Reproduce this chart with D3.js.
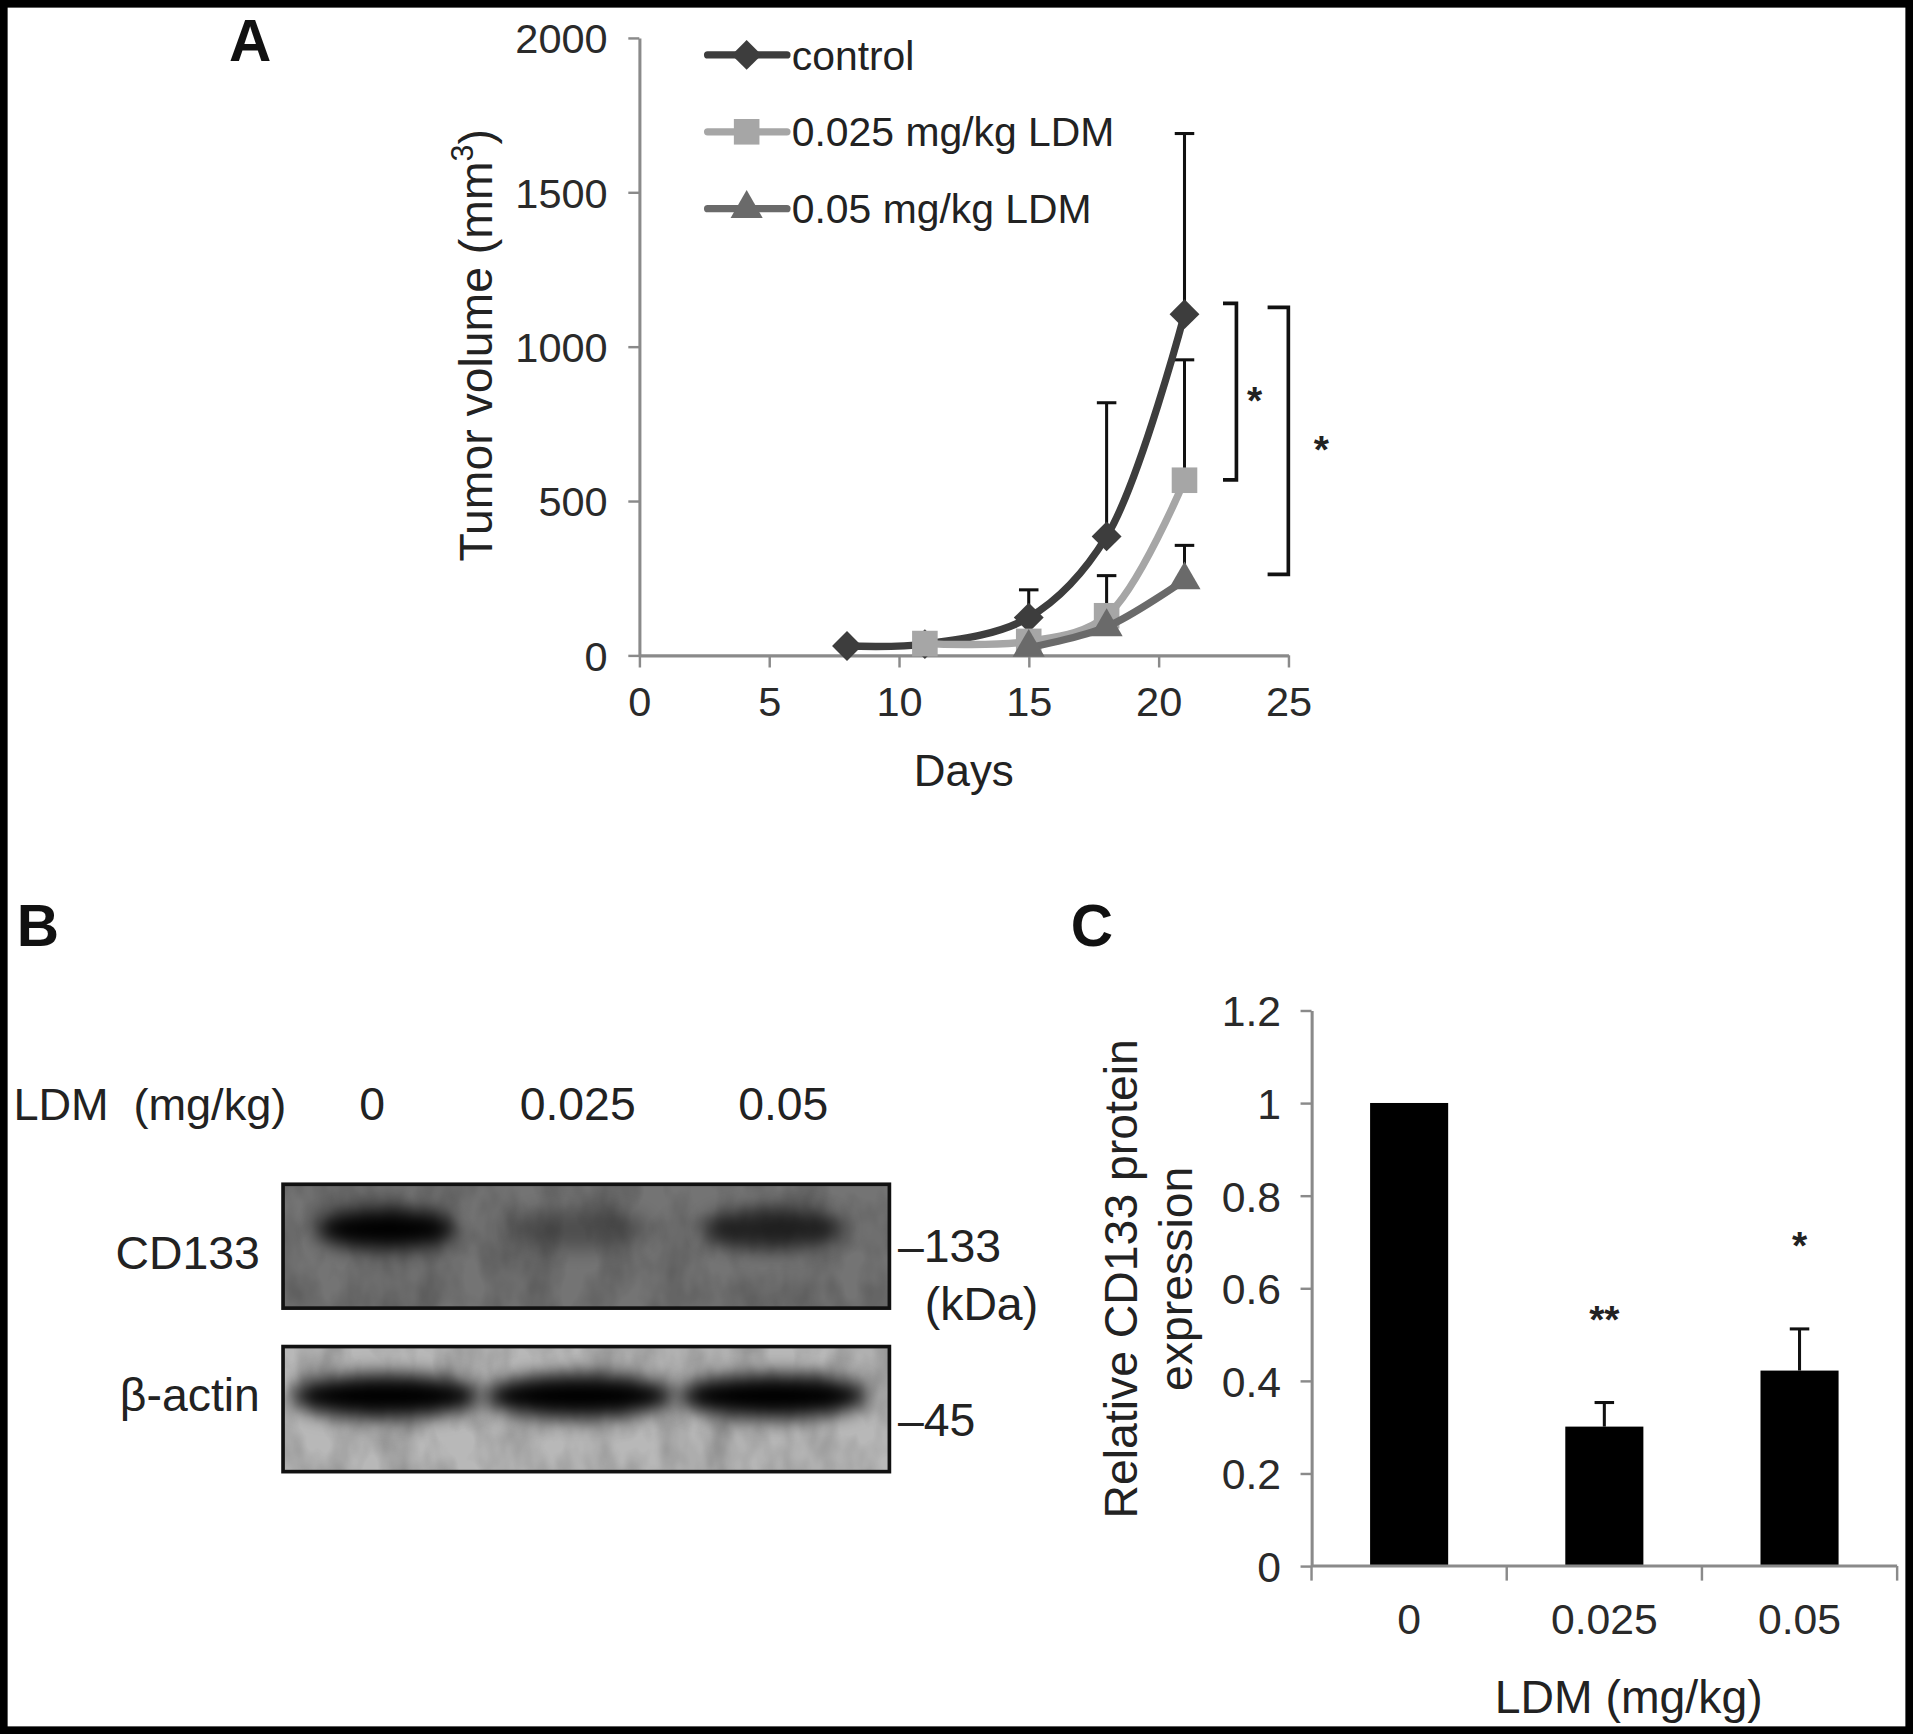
<!DOCTYPE html>
<html>
<head>
<meta charset="utf-8">
<script src="https://cdn.jsdelivr.net/npm/d3@7"></script>
<style>
  body { margin: 0; background: #fff; }
  svg { display: block; font-family: "Liberation Sans", Arial, sans-serif; }
</style>
</head>
<body>
<script>
// ---- panel A: tumour growth ----
const seriesNames = ["control", "0.025 mg/kg LDM", "0.05 mg/kg LDM"];
const controlDays = [8, 11, 15, 18, 21];
const controlMean = [30, 36, 122, 385, 1105];
const controlSD = [0, 0, 90, 433, 585];
const lowDays = [11, 15, 18, 21];
const lowMean = [38, 45, 128, 567];
const lowSD = [0, 0, 130, 390];
const highDays = [15, 18, 21];
const highMean = [25, 92, 244];
const highSD = [0, 0, 112];
const dayTicks = [0, 5, 10, 15, 20, 25];
const volumeTicks = [0, 500, 1000, 1500, 2000];
// brackets: [upper value, lower value, day of the vertical stroke, label]
const brackets = [[1140, 568, 23.0, "*"], [1127, 262, 25.0, "*"]];

// ---- panel B: western blot ----
const laneLabels = ["0", "0.025", "0.05"];
const cd133Band = [1.0, 0.32, 0.72];
const actinBand = [1.0, 1.0, 1.0];

// ---- panel C: CD133 quantification ----
const doseLabels = ["0", "0.025", "0.05"];
const cd133Rel = [1.0, 0.301, 0.422];
const cd133SD = [0, 0.052, 0.09];
const cd133Sig = ["", "**", "*"];
const relTicks = [0, 0.2, 0.4, 0.6, 0.8, 1, 1.2];

const svg = d3.select("body").append("svg")
    .attr("width", 1913)
    .attr("height", 1734)
    .attr("viewBox", "0 0 1568 1421")
    .attr("preserveAspectRatio", "none");

const defs = svg.append("defs");

function styleAxis(g, size) {
    g.select(".domain").attr("stroke", "#8a8a8a").attr("stroke-width", 2.5);
    g.selectAll(".tick line").attr("stroke", "#8a8a8a").attr("stroke-width", 2);
    g.selectAll(".tick text")
        .attr("fill", "#2a2a2a")
        .attr("font-size", size)
        .attr("font-family", "Liberation Sans, Arial, sans-serif");
}

// ================= A =================
const x = d3.scaleLinear().domain([0, 25]).range([524, 1056]);
const y = d3.scaleLinear().domain([0, 2000]).range([537, 31]);

svg.append("g")
    .attr("transform", `translate(0,${y(0)})`)
    .call(d3.axisBottom(x).tickValues(dayTicks).tickSize(10).tickSizeOuter(0).tickPadding(16))
    .call(g => styleAxis(g, 34));

svg.append("g")
    .attr("transform", `translate(${x(0)},0)`)
    .call(d3.axisLeft(y).tickValues(volumeTicks).tickFormat(d3.format("d")).tickSize(9).tickSizeOuter(0).tickPadding(17))
    .call(g => styleAxis(g, 34))
    .call(g => g.selectAll(".tick text").attr("dy", "0.36em"));

const series = [
    { name: seriesNames[0], days: controlDays, mean: controlMean, sd: controlSD, color: "#3d3d3d", shape: "diamond" },
    { name: seriesNames[1], days: lowDays, mean: lowMean, sd: lowSD, color: "#a6a6a6", shape: "square" },
    { name: seriesNames[2], days: highDays, mean: highMean, sd: highSD, color: "#6a6a6a", shape: "triangle" }
];

function marker(shape) {
    if (shape === "diamond") return d3.symbol(d3.symbolSquare, 300)();
    if (shape === "square") return d3.symbol(d3.symbolSquare, 440)();
    return d3.symbol(d3.symbolTriangle, 300)();
}

// error bars first (behind lines)
series.forEach(s => {
    const g = svg.append("g");
    s.days.forEach((d, i) => {
        if (!s.sd[i]) return;
        const top = y(s.mean[i] + s.sd[i]);
        g.append("line")
            .attr("x1", x(d)).attr("x2", x(d))
            .attr("y1", y(s.mean[i])).attr("y2", top)
            .attr("stroke", "#111").attr("stroke-width", 2.5);
        g.append("line")
            .attr("x1", x(d) - 8).attr("x2", x(d) + 8)
            .attr("y1", top).attr("y2", top)
            .attr("stroke", "#111").attr("stroke-width", 2.5);
    });
});

const line = d3.line().curve(d3.curveCatmullRom.alpha(0.5));

series.forEach(s => {
    const pts = s.days.map((d, i) => [x(d), y(s.mean[i])]);
    svg.append("path")
        .attr("d", line(pts))
        .attr("fill", "none")
        .attr("stroke", s.color)
        .attr("stroke-width", 6)
        .attr("stroke-linecap", "round");
    svg.append("g").selectAll("path")
        .data(pts)
        .join("path")
        .attr("d", marker(s.shape))
        .attr("transform", p => `translate(${p[0]},${p[1]})` + (s.shape === "diamond" ? " rotate(45)" : ""))
        .attr("fill", s.color);
});

// significance brackets
brackets.forEach(([hi, lo, day, label], i) => {
    const bx = x(day);
    const arm = i === 0 ? 11 : 17;
    svg.append("path")
        .attr("d", `M${bx - arm},${y(hi)}H${bx}V${y(lo)}H${bx - arm}`)
        .attr("fill", "none")
        .attr("stroke", "#111")
        .attr("stroke-width", 3);
    svg.append("text")
        .attr("x", bx + (i === 0 ? 15 : 27))
        .attr("y", (y(hi) + y(lo)) / 2 + 18)
        .attr("text-anchor", "middle")
        .attr("font-size", 32)
        .attr("font-weight", "bold")
        .attr("fill", "#222")
        .text(label);
});

// legend
const legend = svg.append("g");
series.forEach((s, i) => {
    const ly = 45 + i * 63;
    legend.append("line")
        .attr("x1", 580).attr("x2", 645)
        .attr("y1", ly).attr("y2", ly)
        .attr("stroke", s.color).attr("stroke-width", 6).attr("stroke-linecap", "round");
    legend.append("path")
        .attr("d", marker(s.shape))
        .attr("transform", `translate(612,${ly})` + (s.shape === "diamond" ? " rotate(45)" : ""))
        .attr("fill", s.color);
    legend.append("text")
        .attr("x", 649).attr("y", ly + 12)
        .attr("font-size", 33.5)
        .attr("fill", "#222")
        .text(s.name);
});

svg.append("text")
    .attr("x", 790).attr("y", 644)
    .attr("text-anchor", "middle")
    .attr("font-size", 36)
    .attr("fill", "#222")
    .text("Days");

svg.append("text")
    .attr("transform", "translate(403,283) rotate(-90)")
    .attr("text-anchor", "middle")
    .attr("font-size", 38)
    .attr("fill", "#222")
    .call(t => {
        t.append("tspan").text("Tumor volume (mm");
        t.append("tspan").attr("font-size", 25).attr("dy", -15).text("3");
        t.append("tspan").attr("dy", 15).text(")");
    });

// ================= B =================
const lane = d3.scalePoint().domain(laneLabels).range([305, 642]);
const bandLane = d3.scalePoint().domain(laneLabels).range([316, 634]);

svg.append("text")
    .attr("x", 11).attr("y", 918)
    .attr("font-size", 37)
    .attr("fill", "#222")
    .attr("word-spacing", 10)
    .text("LDM (mg/kg)");

svg.append("g").selectAll("text")
    .data(laneLabels)
    .join("text")
    .attr("x", d => lane(d))
    .attr("y", 918)
    .attr("text-anchor", "middle")
    .attr("font-size", 38)
    .attr("fill", "#222")
    .text(d => d);

const blur = defs.append("filter").attr("id", "blur")
    .attr("x", "-50%").attr("y", "-80%").attr("width", "200%").attr("height", "260%");
blur.append("feGaussianBlur").attr("stdDeviation", 8);

const grain = defs.append("filter").attr("id", "grain")
    .attr("x", 0).attr("y", 0).attr("width", "100%").attr("height", "100%");
grain.append("feTurbulence")
    .attr("type", "fractalNoise").attr("baseFrequency", "0.035 0.02")
    .attr("numOctaves", 3).attr("seed", 7).attr("result", "t");
grain.append("feColorMatrix")
    .attr("in", "t").attr("type", "matrix")
    .attr("values", "0 0 0 0 0  0 0 0 0 0  0 0 0 0 0  0.9 0 0 0 -0.3");

const blots = [
    { label: "CD133", top: 970.5, bottom: 1072, bg: "#747474", bands: cd133Band, bandY: 1007, rx: 58, ry: 17, mark: "\u2013133", markY: 1034 },
    { label: "\u03b2-actin", top: 1103.5, bottom: 1206, bg: "#b8b8b8", bands: actinBand, bandY: 1144, rx: 78, ry: 18, mark: "\u201345", markY: 1177 }
];

blots.forEach((b, bi) => {
    const clipId = "clip" + bi;
    defs.append("clipPath").attr("id", clipId)
        .append("rect")
        .attr("x", 232).attr("y", b.top)
        .attr("width", 497).attr("height", b.bottom - b.top);
    const g = svg.append("g").attr("clip-path", `url(#${clipId})`);
    g.append("rect")
        .attr("x", 232).attr("y", b.top)
        .attr("width", 497).attr("height", b.bottom - b.top)
        .attr("fill", b.bg);
    g.append("rect")
        .attr("x", 232).attr("y", b.top)
        .attr("width", 497).attr("height", b.bottom - b.top)
        .attr("fill", "#000")
        .attr("filter", "url(#grain)")
        .attr("opacity", 0.45);
    g.selectAll("ellipse")
        .data(laneLabels)
        .join("ellipse")
        .attr("cx", d => bandLane(d))
        .attr("cy", b.bandY)
        .attr("rx", b.rx)
        .attr("ry", b.ry)
        .attr("fill", "#030303")
        .attr("opacity", (d, i) => b.bands[i])
        .attr("filter", "url(#blur)");
    svg.append("rect")
        .attr("x", 232).attr("y", b.top)
        .attr("width", 497).attr("height", b.bottom - b.top)
        .attr("fill", "none")
        .attr("stroke", "#111")
        .attr("stroke-width", 3);
    svg.append("text")
        .attr("x", 213).attr("y", bi === 0 ? 1040 : 1156)
        .attr("text-anchor", "end")
        .attr("font-size", 38)
        .attr("fill", "#222")
        .text(b.label);
    svg.append("text")
        .attr("x", 736).attr("y", b.markY)
        .attr("font-size", 38)
        .attr("fill", "#222")
        .text(b.mark);
});

svg.append("text")
    .attr("x", 758).attr("y", 1082)
    .attr("font-size", 38)
    .attr("fill", "#222")
    .text("(kDa)");

// ================= C =================
const xc = d3.scaleBand().domain(doseLabels).range([1075, 1555]).paddingInner(0.6).paddingOuter(0.3);
const yc = d3.scaleLinear().domain([0, 1.2]).range([1283.3, 828]);

svg.append("g")
    .attr("transform", `translate(1075,0)`)
    .call(d3.axisLeft(yc).tickValues(relTicks).tickFormat(d => String(+d.toFixed(1))).tickSize(9).tickSizeOuter(0).tickPadding(16))
    .call(g => styleAxis(g, 35))
    .call(g => g.selectAll(".tick text").attr("dy", "0.36em"));

svg.append("g").selectAll("rect")
    .data(doseLabels)
    .join("rect")
    .attr("x", d => xc(d))
    .attr("y", (d, i) => yc(cd133Rel[i]))
    .attr("width", xc.bandwidth())
    .attr("height", (d, i) => yc(0) - yc(cd133Rel[i]))
    .attr("fill", "#000");

const errC = svg.append("g");
doseLabels.forEach((d, i) => {
    if (!cd133SD[i]) return;
    const cx = xc(d) + xc.bandwidth() / 2;
    const top = yc(cd133Rel[i] + cd133SD[i]);
    errC.append("line")
        .attr("x1", cx).attr("x2", cx)
        .attr("y1", yc(cd133Rel[i])).attr("y2", top)
        .attr("stroke", "#111").attr("stroke-width", 2.5);
    errC.append("line")
        .attr("x1", cx - 8).attr("x2", cx + 8)
        .attr("y1", top).attr("y2", top)
        .attr("stroke", "#111").attr("stroke-width", 2.5);
    svg.append("text")
        .attr("x", cx)
        .attr("y", top - 75 + 18)
        .attr("text-anchor", "middle")
        .attr("font-size", 32)
        .attr("font-weight", "bold")
        .attr("fill", "#222")
        .text(cd133Sig[i]);
});

// x axis of C: line, ticks at category boundaries, labels at centres
const xAxisC = svg.append("g");
xAxisC.append("line")
    .attr("x1", xc.range()[0]).attr("x2", xc.range()[1])
    .attr("y1", yc(0)).attr("y2", yc(0))
    .attr("stroke", "#8a8a8a").attr("stroke-width", 2.5);
xAxisC.selectAll("line.b")
    .data(d3.range(doseLabels.length + 1))
    .join("line")
    .attr("class", "b")
    .attr("x1", i => xc.range()[0] + i * xc.step())
    .attr("x2", i => xc.range()[0] + i * xc.step())
    .attr("y1", yc(0)).attr("y2", yc(0) + 12)
    .attr("stroke", "#8a8a8a").attr("stroke-width", 2);
xAxisC.selectAll("text")
    .data(doseLabels)
    .join("text")
    .attr("x", d => xc(d) + xc.bandwidth() / 2)
    .attr("y", 1339)
    .attr("text-anchor", "middle")
    .attr("font-size", 35)
    .attr("fill", "#2a2a2a")
    .text(d => d);

svg.append("text")
    .attr("x", 1335).attr("y", 1404)
    .attr("text-anchor", "middle")
    .attr("font-size", 38)
    .attr("fill", "#222")
    .text("LDM (mg/kg)");

svg.append("text")
    .attr("transform", "translate(932,1048) rotate(-90)")
    .attr("text-anchor", "middle")
    .attr("font-size", 38)
    .attr("fill", "#222")
    .text("Relative CD133 protein");
svg.append("text")
    .attr("transform", "translate(977,1048) rotate(-90)")
    .attr("text-anchor", "middle")
    .attr("font-size", 38)
    .attr("fill", "#222")
    .text("expression");

// panel letters
[["A", 205, 50], ["B", 31, 775], ["C", 895, 775]].forEach(([t, lx, ly]) => {
    svg.append("text")
        .attr("x", lx).attr("y", ly)
        .attr("text-anchor", "middle")
        .attr("font-size", 48)
        .attr("font-weight", "bold")
        .attr("fill", "#111")
        .text(t);
});

// frame
svg.append("rect")
    .attr("x", 3).attr("y", 3)
    .attr("width", 1562).attr("height", 1415)
    .attr("fill", "none")
    .attr("stroke", "#000")
    .attr("stroke-width", 6.5);
</script>
</body>
</html>
